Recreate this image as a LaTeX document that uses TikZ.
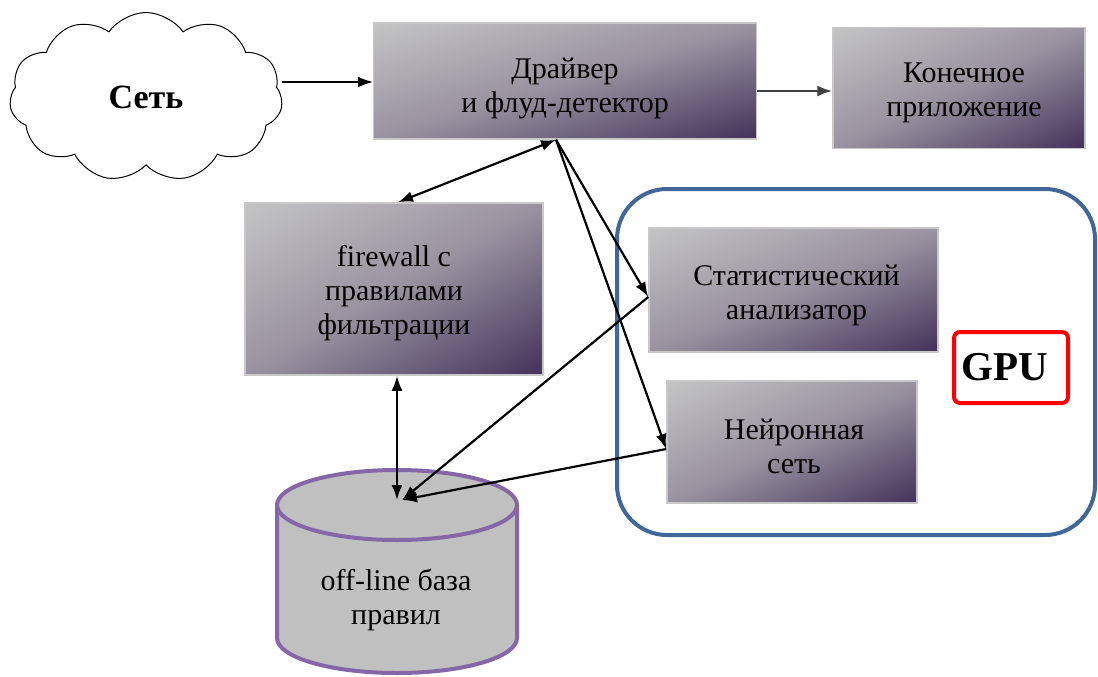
\documentclass[tikz,border=0pt]{standalone}
\usepackage{fontspec}
\setmainfont{Liberation Serif}
\usetikzlibrary{shapes.symbols,arrows.meta,calc}
\definecolor{boxlight}{HTML}{C4C4C4}
\definecolor{boxmid}{HTML}{9893A0}
\definecolor{boxdark}{HTML}{44325A}
\definecolor{boxedge}{HTML}{C8C8C8}
\definecolor{areablue}{HTML}{41679A}
\definecolor{dbedge}{HTML}{8566A6}
\definecolor{dbfill}{HTML}{C0C0C0}
\definecolor{linkgray}{HTML}{404040}
% box with a diagonal gradient from its top-left to its bottom-right corner
% #1 name, #2 centre x, #3 centre y, #4 width, #5 height
\newcommand\gradbox[5]{%
  \pgfmathsetmacro\gbA{#4/200}%
  \pgfmathsetmacro\gbB{#5/200}%
  \pgfmathsetmacro\gbNB{-#5/200}%
  \begin{scope}
    \clip (#2-#4/2,#3-#5/2) rectangle (#2+#4/2,#3+#5/2);
    \begin{scope}[transform canvas={cm={\gbA,\gbB,\gbA,\gbNB,(#2-#4/2,#3-#5/2)}}]
      \shade[bottom color=boxlight, top color=boxdark, middle color=boxmid]
        (-100pt,0pt) rectangle (100pt,200pt);
    \end{scope}
  \end{scope}
  \node[draw=boxedge, line width=1.5pt, inner sep=0pt,
        minimum width=#4pt, minimum height=#5pt] (#1) at (#2,#3) {};
}
\begin{document}
\begin{tikzpicture}[x=1pt,y=-1pt,
  label/.style={align=center, inner sep=0pt, font=\fontsize{30}{34}\selectfont},
  tip/.tip={Latex[length=15pt,width=11pt]},
  arr/.style={line width=2.2pt, -tip},
  darr/.style={line width=2.2pt, tip-tip}]
\useasboundingbox (0,0) rectangle (1098,677);
\fill[white] (0,0) rectangle (1098,677);

% GPU area frame
\node[draw=areablue, line width=4pt, rounded corners=50pt,
      minimum width=478pt, minimum height=346pt] (area) at (856,362) {};

% processing blocks
\gradbox{drv}{565}{81}{383}{116}
\gradbox{app}{959}{88}{252}{121}
\gradbox{fw}{394}{289}{298}{172}
\gradbox{stat}{793.5}{290}{289}{124}
\gradbox{nn}{792}{442}{250}{122}
\node[label] (drvt) at ([yshift=-7pt]drv.center) {Драйвер\\и флуд-детектор};
\node[label] (appt) at ([xshift=5pt,yshift=-5pt]app.center) {Конечное\\приложение};
\node[label] (fwt) at ([yshift=-4pt]fw.center) {firewall с\\правилами\\фильтрации};
\node[label] (statt) at ([xshift=3pt,yshift=-5pt]stat.center) {Статистический\\анализатор};
\node[label] (nnt) at ([xshift=2pt,yshift=-4pt]nn.center) {Нейронная\\сеть};

% GPU label
\node[draw=red, line width=4pt, rounded corners=6pt, inner sep=0pt,
      minimum width=114pt, minimum height=71pt] (gpu) at (1011,367.5) {};
\node[font=\bfseries\fontsize{41}{41}\selectfont, inner sep=0pt] (gput)
      at ([xshift=-6pt]gpu.center) {GPU};

% network cloud
\node[cloud, draw, line width=1pt, fill=white, cloud puffs=11, cloud puff arc=110,
      aspect=1.6, minimum width=273pt, minimum height=169pt, inner sep=0pt,
      font=\bfseries\fontsize{34}{34}\selectfont] (net) at (146,97) {Сеть};

% rule database cylinder
\fill[dbfill] (277,505) -- (277,638)
  arc[start angle=180, end angle=360, x radius=120pt, y radius=35pt]
  -- (517,505)
  arc[start angle=0, end angle=180, x radius=120pt, y radius=35pt] -- cycle;
\draw[dbedge, line width=4pt] (277,505) -- (277,638)
  arc[start angle=180, end angle=360, x radius=120pt, y radius=35pt] -- (517,505);
\draw[dbedge, line width=4pt] (397,505) ellipse [x radius=120pt, y radius=35pt];
\node[label] (db) at (396,600) {off-line база\\правил};
\coordinate (dbtop) at (402,500);

% connectors
\coordinate (dsrc) at ([xshift=-9pt]drv.south);
\coordinate (fwb) at ([xshift=3pt]fw.south);
\coordinate (statin) at ([yshift=-7pt]stat.west);
\coordinate (nnin) at ([yshift=-7pt]nn.west);
\draw[arr, line width=1.3pt] ([yshift=15pt]net.east) -- ([yshift=15pt]net.east -| drv.west);
\draw[arr, draw=linkgray] ([yshift=-10pt]drv.east) -- ([yshift=-10pt]drv.east -| app.west);
\draw[darr] (dsrc) -- ([xshift=4pt]fw.north);
\draw[arr] (dsrc) -- (statin);
\draw[arr] (dsrc) -- (nnin);
\draw[arr] (statin) -- (dbtop);
\draw[arr] (nnin) -- (dbtop);
\draw[darr] (fwb) -- (fwb |- dbtop);
\end{tikzpicture}
\end{document}
